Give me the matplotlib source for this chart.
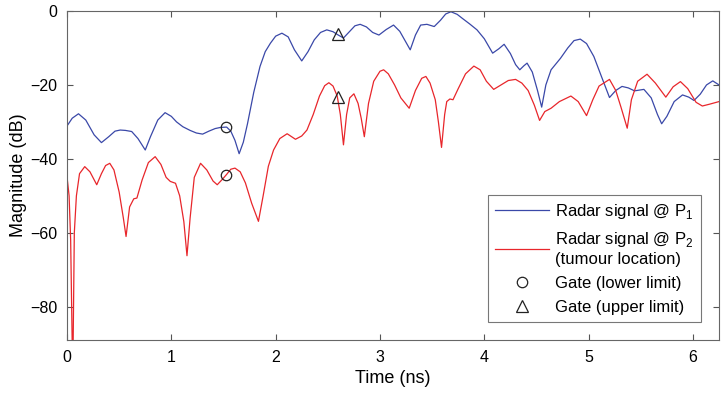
import matplotlib
matplotlib.use("Agg")
import matplotlib.pyplot as plt

plt.rcParams['font.family'] = ['Liberation Sans', 'DejaVu Sans']
plt.rcParams['mathtext.fontset'] = 'custom'
plt.rcParams['mathtext.rm'] = 'Liberation Sans'

# Radar signal @ P1 (time in ns, magnitude in dB)
blue_t = [0.00, 0.05, 0.11, 0.18, 0.26, 0.33, 0.40, 0.46, 0.51, 0.56, 0.62, 0.68,
          0.75, 0.80, 0.87, 0.94, 1.00, 1.05, 1.11, 1.18, 1.24, 1.30, 1.36, 1.42,
          1.47, 1.53, 1.57, 1.61, 1.65, 1.69, 1.73, 1.79, 1.85, 1.90, 1.95, 2.00,
          2.06, 2.12, 2.18, 2.25, 2.31, 2.37, 2.43, 2.49, 2.55, 2.60, 2.65, 2.70,
          2.76, 2.81, 2.87, 2.93, 2.99, 3.06, 3.13, 3.19, 3.24, 3.29, 3.34, 3.39,
          3.45, 3.52, 3.58, 3.63, 3.68, 3.74, 3.79, 3.86, 3.93, 4.00, 4.08, 4.14,
          4.19, 4.25, 4.30, 4.34, 4.38, 4.41, 4.46, 4.51, 4.55, 4.59, 4.64, 4.73,
          4.80, 4.86, 4.92, 4.98, 5.05, 5.12, 5.20, 5.26, 5.32, 5.38, 5.44, 5.53,
          5.60, 5.66, 5.70, 5.75, 5.82, 5.90, 5.96, 6.01, 6.07, 6.13, 6.19, 6.25]
blue_db = [-31.1, -29.0, -27.8, -29.5, -33.5, -35.6, -34.0, -32.5, -32.2, -32.3, -32.6, -34.5,
           -37.6, -34.0, -29.5, -27.5, -28.5, -30.0, -31.3, -32.3, -33.0, -33.3, -32.5, -31.8,
           -31.5, -31.4, -32.5, -35.0, -38.6, -35.5, -30.5, -22.0, -15.0, -11.0, -8.7, -6.8,
           -6.0, -7.0, -10.5, -13.5, -11.0, -7.8, -5.8, -5.1, -5.6, -6.5, -7.3, -5.8,
           -4.0, -3.6, -4.3, -5.8, -6.5, -5.0, -3.8, -5.5, -8.0, -10.5, -6.5, -3.8,
           -3.6, -4.2, -2.5, -0.8, -0.2, -0.9, -2.0, -3.5, -5.1, -7.5, -11.4, -10.2,
           -9.0, -11.5, -14.5, -15.9, -14.8, -14.1, -16.5, -21.5, -26.0, -20.0, -15.9, -12.8,
           -10.0, -8.0, -7.6, -8.8, -12.3, -17.5, -23.4, -21.5, -20.4, -20.8, -21.6, -21.2,
           -23.5, -28.0, -30.5, -28.5, -24.5, -22.7, -23.3, -24.2, -22.5, -20.0, -18.9, -20.0]

# Radar signal @ P2 (tumour location)
red_t = [0.00, 0.02, 0.035, 0.055, 0.07, 0.09, 0.12, 0.17, 0.22, 0.285, 0.33, 0.37,
         0.41, 0.45, 0.50, 0.54, 0.566, 0.60, 0.64, 0.67, 0.72, 0.78, 0.845, 0.90,
         0.95, 0.99, 1.04, 1.08, 1.12, 1.15, 1.18, 1.22, 1.28, 1.34, 1.40, 1.44,
         1.49, 1.53, 1.57, 1.61, 1.66, 1.71, 1.77, 1.835, 1.88, 1.93, 1.98, 2.04,
         2.11, 2.19, 2.25, 2.30, 2.36, 2.42, 2.47, 2.51, 2.55, 2.59, 2.62, 2.65,
         2.68, 2.71, 2.75, 2.79, 2.82, 2.85, 2.89, 2.94, 3.00, 3.035, 3.08, 3.14,
         3.20, 3.28, 3.34, 3.40, 3.44, 3.48, 3.53, 3.56, 3.59, 3.62, 3.64, 3.67,
         3.70, 3.75, 3.82, 3.90, 3.96, 4.02, 4.09, 4.16, 4.23, 4.30, 4.36, 4.42,
         4.48, 4.53, 4.58, 4.64, 4.72, 4.83, 4.90, 4.98, 5.04, 5.10, 5.20, 5.26,
         5.31, 5.37, 5.41, 5.47, 5.56, 5.64, 5.74, 5.81, 5.88, 5.95, 6.03, 6.09,
         6.16, 6.25]
red_db = [-44.8, -50.0, -62.0, -100.0, -60.0, -50.0, -44.0, -42.1, -43.5, -47.0, -44.0, -41.8,
          -41.2, -43.0, -49.0, -56.0, -61.0, -53.0, -50.8, -50.6, -45.7, -41.0, -39.4, -41.5,
          -45.0, -46.1, -46.6, -50.0, -57.0, -66.2, -56.0, -45.0, -41.2, -43.0, -46.0, -47.0,
          -45.5, -44.2, -42.8, -42.5, -43.5, -46.5, -52.0, -56.9, -50.0, -42.0, -37.6, -34.5,
          -33.2, -34.7, -33.8, -32.2, -28.0, -23.0, -20.2, -19.4, -20.3, -23.0, -28.0, -36.2,
          -28.0, -23.5, -22.4, -25.0, -29.0, -34.0, -25.0, -19.0, -16.3, -15.9, -17.0, -20.0,
          -23.5, -26.3, -21.5, -18.2, -17.7, -19.5, -24.0, -30.0, -36.9, -28.0, -24.5, -23.8,
          -24.0, -21.0, -17.0, -14.9, -15.9, -19.0, -21.2, -20.0, -18.8, -18.5, -19.5, -21.5,
          -25.5, -29.6, -27.2, -26.3, -24.5, -23.0, -24.5, -28.3, -24.0, -20.3, -18.5, -21.5,
          -26.0, -31.7, -24.0, -19.0, -17.1, -19.5, -23.3, -20.5, -19.1, -21.0, -24.7, -25.7,
          -25.2, -24.5]

# Gate markers
gate_low_t = [1.526, 1.526]
gate_low_db = [-31.4, -44.3]
gate_up_t = [2.594, 2.594]
gate_up_db = [-6.3, -23.3]

fig = plt.figure(figsize=(7.26, 4.05), dpi=100)
ax = fig.add_axes([0.0923, 0.1605, 0.8981, 0.8123])

ax.plot(blue_t, blue_db, color='#3a48a8', lw=0.9, label='Radar signal @ P$_\\mathregular{1}$')
ax.plot(red_t, red_db, color='#e8262b', lw=0.9,
        label='Radar signal @ P$_\\mathregular{2}$\n(tumour location)')
ax.plot(gate_low_t, gate_low_db, 'o', mfc='none', mec='#222222', ms=7.5, mew=0.9,
        label='Gate (lower limit)')
ax.plot(gate_up_t, gate_up_db, '^', mfc='none', mec='#222222', ms=8.5, mew=0.9,
        label='Gate (upper limit)')

ax.set_xlim(0, 6.25)
ax.set_ylim(-89, 0)
ax.set_xticks([0, 1, 2, 3, 4, 5, 6])
ax.set_yticks([-80, -60, -40, -20, 0])
ax.tick_params(direction='in', top=True, right=True, length=4, width=0.8,
               colors='#555555', labelcolor='black', labelsize=11.5, pad=7)
for s in ax.spines.values():
    s.set_color('#666666')
    s.set_linewidth(0.8)

ax.set_xlabel('Time (ns)', fontsize=13)
ax.set_ylabel('Magnitude (dB)', fontsize=13, labelpad=2)

leg = ax.legend(loc='lower right', fontsize=12, frameon=True, fancybox=False,
                edgecolor='#555555', handlelength=3.25, handletextpad=0.4,
                borderpad=0.4, borderaxespad=1.1, labelspacing=0.55)
leg.get_frame().set_linewidth(0.8)

fig.savefig('out.png', dpi=100)
